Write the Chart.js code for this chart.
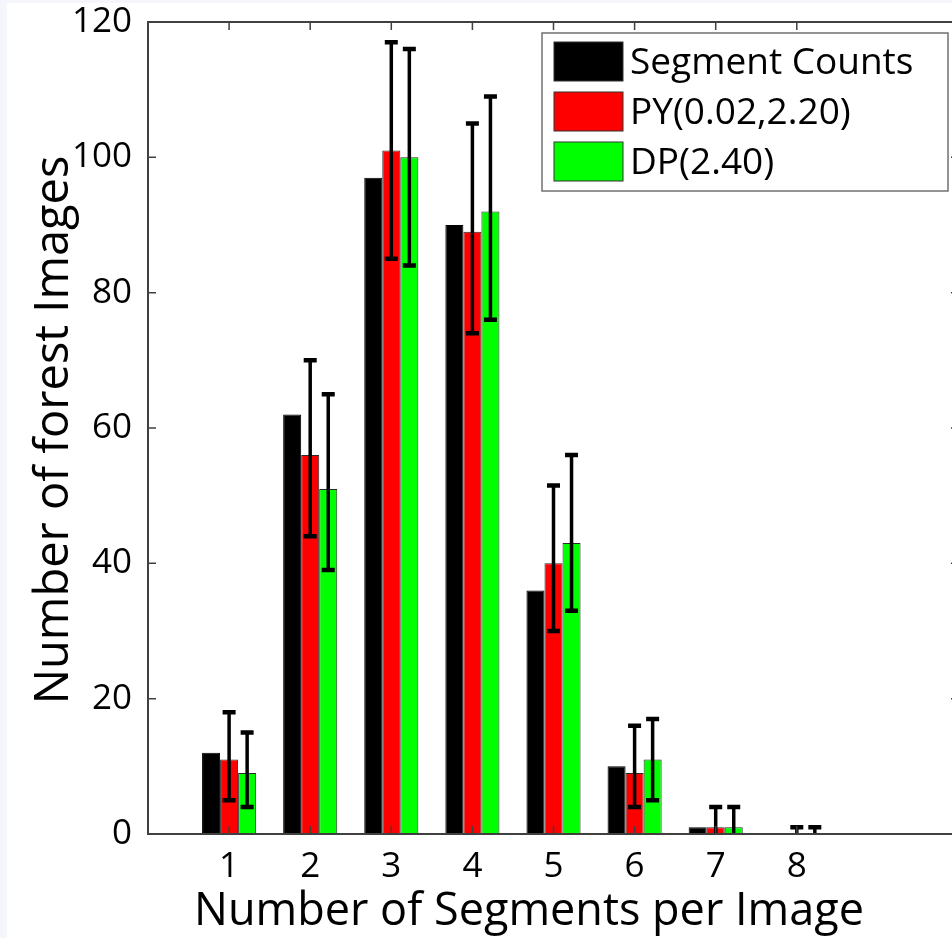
<!DOCTYPE html>
<html>
<head>
<meta charset="utf-8">
<title>Segments per image</title>
<script src="https://cdn.jsdelivr.net/npm/chart.js@4.4.1/dist/chart.umd.min.js"></script>
<style>
  html, body { margin: 0; padding: 0; }
  body { width: 952px; height: 938px; overflow: hidden; background: #f4f6fc; position: relative; }
  #wrap { position: absolute; left: 7px; top: 3px; width: 968px; height: 935px; }
</style>
</head>
<body>
<div id="wrap"><canvas id="segChart"></canvas></div>
<script>
// number of segments per image (x positions)
const segments = [1, 2, 3, 4, 5, 6, 7, 8];
const xTicks = [1, 2, 3, 4, 5, 6, 7, 8];
const yTicks = [0, 20, 40, 60, 80, 100, 120];

// histogram of observed segment counts
const segmentCounts = [12, 62, 97, 90, 36, 10, 1, 0];

// Pitman-Yor prior, mean with error range
const pyValues = [11, 56, 101, 89, 40, 9, 1, 0];
const pyLow = [5, 44, 85, 74, 30, 4, -2, -1];
const pyHigh = [18, 70, 117, 105, 51.5, 16, 4, 1];

// Dirichlet process prior, mean with error range
const dpValues = [9, 51, 100, 92, 43, 11, 1, 0];
const dpLow = [4, 39, 84, 76, 33, 5, -2, -1];
const dpHigh = [15, 65, 116, 109, 56, 17, 4, 1];

const labels = ['Segment Counts', 'PY(0.02,2.20)', 'DP(2.40)'];
const colors = ['#000000', '#ff0000', '#00ff00'];

const FONT = '"Open Sans", "Noto Sans", sans-serif';
const AXIS = '#404040';

function toPoints(vals) {
    return segments.map((s, i) => ({ x: s, y: vals[i] }));
}

// white figure background
const background = {
    id: 'background',
    beforeDraw(chart) {
        const { ctx, width, height } = chart;
        ctx.save();
        ctx.fillStyle = '#ffffff';
        ctx.fillRect(0, 0, width, height);
        ctx.restore();
    }
};

// error bars for the model datasets
const errorBars = {
    id: 'errorBars',
    afterDatasetsDraw(chart) {
        const { ctx, chartArea } = chart;
        const y = chart.scales.y;
        const ranges = { 1: [pyLow, pyHigh], 2: [dpLow, dpHigh] };
        ctx.save();
        ctx.beginPath();
        ctx.rect(chartArea.left, chartArea.top, chartArea.right - chartArea.left, chartArea.bottom - chartArea.top);
        ctx.clip();
        ctx.strokeStyle = '#000';
        Object.keys(ranges).forEach(di => {
            const [lo, hi] = ranges[di];
            const meta = chart.getDatasetMeta(di);
            meta.data.forEach((bar, i) => {
                const cx = bar.x;
                const yLo = y.getPixelForValue(lo[i]);
                const yHi = y.getPixelForValue(hi[i]);
                ctx.lineWidth = 3.5;
                ctx.beginPath();
                ctx.moveTo(cx, yLo);
                ctx.lineTo(cx, yHi);
                ctx.stroke();
                ctx.lineWidth = 4.5;
                ctx.beginPath();
                ctx.moveTo(cx - 6.5, yLo);
                ctx.lineTo(cx + 6.5, yLo);
                ctx.moveTo(cx - 6.5, yHi);
                ctx.lineTo(cx + 6.5, yHi);
                ctx.stroke();
            });
        });
        ctx.restore();
    }
};

// boxed axes with inward ticks, axis titles and legend
const frame = {
    id: 'frame',
    afterDraw(chart) {
        const { ctx, chartArea: a } = chart;
        const xs = chart.scales.x, ys = chart.scales.y;
        ctx.save();
        ctx.strokeStyle = AXIS;
        ctx.lineWidth = 2;
        ctx.strokeRect(a.left, a.top, a.right - a.left, a.bottom - a.top);
        ctx.lineWidth = 1.5;
        ctx.beginPath();
        yTicks.forEach(v => {
            const py = ys.getPixelForValue(v);
            ctx.moveTo(a.left, py); ctx.lineTo(a.left + 8, py);
            ctx.moveTo(a.right, py); ctx.lineTo(a.right - 8, py);
        });
        xTicks.forEach(v => {
            const px = xs.getPixelForValue(v);
            ctx.moveTo(px, a.bottom); ctx.lineTo(px, a.bottom - 8);
            ctx.moveTo(px, a.top); ctx.lineTo(px, a.top + 8);
        });
        ctx.stroke();

        // axis titles
        ctx.fillStyle = '#000';
        ctx.textAlign = 'center';
        ctx.textBaseline = 'alphabetic';
        ctx.font = '45px ' + FONT;
        ctx.fillText('Number of Segments per Image', a.left + 381, 922);
        ctx.save();
        ctx.font = '47px ' + FONT;
        ctx.translate(61, (a.top + a.bottom) / 2 + 2);
        ctx.rotate(-Math.PI / 2);
        ctx.fillText('Number of forest Images', 0, 0);
        ctx.restore();

        // legend
        const lx = 535, ly = 30, lw = 406, lh = 158;
        ctx.fillStyle = '#fff';
        ctx.fillRect(lx, ly, lw, lh);
        ctx.strokeStyle = '#707070';
        ctx.lineWidth = 1.5;
        ctx.strokeRect(lx, ly, lw, lh);
        ctx.font = '37px ' + FONT;
        ctx.textAlign = 'left';
        ctx.textBaseline = 'middle';
        labels.forEach((lab, i) => {
            const sy = ly + 9 + i * 50;
            ctx.fillStyle = colors[i];
            ctx.fillRect(lx + 12, sy, 69, 39);
            ctx.strokeStyle = '#333';
            ctx.lineWidth = 1;
            ctx.strokeRect(lx + 12, sy, 69, 39);
            ctx.fillStyle = '#000';
            ctx.fillText(lab, lx + 88, sy + 21);
        });
        ctx.restore();
    }
};

const datasets = [segmentCounts, pyValues, dpValues].map((vals, i) => ({
    label: labels[i],
    data: toPoints(vals),
    backgroundColor: colors[i],
    borderColor: i === 0 ? '#000' : '#2a2a2a',
    borderWidth: 1,
    categoryPercentage: 0.667,
    barPercentage: 1
}));

// keep the plot box fixed: no extra room reserved for end labels
function noEdgePadding(s) {
    s.paddingTop = 0;
    s.paddingBottom = 0;
    s.paddingLeft = 0;
    s.paddingRight = 0;
}

new Chart(document.getElementById('segChart'), {
    type: 'bar',
    data: { datasets },
    options: {
        responsive: true,
        maintainAspectRatio: false,
        animation: false,
        layout: { padding: { top: 19, right: 16, left: 0, bottom: 0 } },
        plugins: { legend: { display: false }, tooltip: { enabled: false } },
        scales: {
            x: {
                type: 'linear',
                offset: false,
                min: 0,
                max: 10,
                grid: { display: false, drawTicks: false },
                border: { display: false },
                afterBuildTicks: s => { s.ticks = xTicks.map(v => ({ value: v })); },
                afterFit: s => { s.height = 104; noEdgePadding(s); },
                ticks: { color: '#000', font: { family: FONT, size: 35 }, padding: 12, maxRotation: 0 }
            },
            y: {
                min: 0,
                max: 120,
                grid: { display: false, drawTicks: false },
                border: { display: false },
                afterBuildTicks: s => { s.ticks = yTicks.map(v => ({ value: v })); },
                afterFit: s => { s.width = 141; noEdgePadding(s); },
                ticks: { color: '#000', font: { family: FONT, size: 35 }, padding: 16 }
            }
        }
    },
    plugins: [background, errorBars, frame]
});
</script>
</body>
</html>
